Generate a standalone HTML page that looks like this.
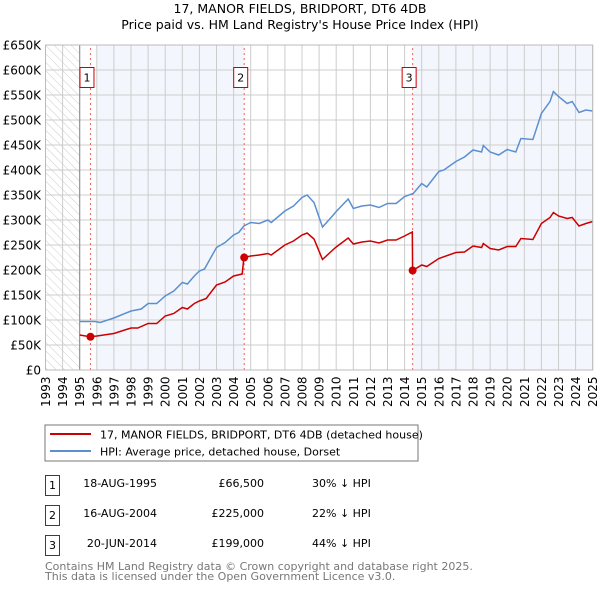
<!DOCTYPE html>
<html><head><meta charset="utf-8"><style>
body{margin:0;background:#fff;width:600px;height:590px;overflow:hidden;font-family:"DejaVu Sans","Liberation Sans",sans-serif}
svg text{font-family:"DejaVu Sans","Liberation Sans",sans-serif}
</style></head><body>
<svg id="c" width="600" height="590">
<defs><pattern id="h" width="6" height="6" patternUnits="userSpaceOnUse" patternTransform="rotate(-45)"><line x1="0" y1="0" x2="0" y2="6" stroke="#ccc" stroke-width="1"/></pattern></defs>
<text x="300" y="13" text-anchor="middle" font-size="12.5">17, MANOR FIELDS, BRIDPORT, DT6 4DB</text>
<text x="300" y="29" text-anchor="middle" font-size="12.5">Price paid vs. HM Land Registry's House Price Index (HPI)</text>
<g id="plot"></g>
<rect x="45" y="425" width="373" height="36" fill="#fff" stroke="#777"/>
<line x1="50" y1="434" x2="91" y2="434" stroke="#cc0000" stroke-width="2"/>
<text x="100" y="438.5" font-size="11">17, MANOR FIELDS, BRIDPORT, DT6 4DB (detached house)</text>
<line x1="50" y1="451" x2="91" y2="451" stroke="#5b8fd0" stroke-width="2"/>
<text x="100" y="455.5" font-size="11">HPI: Average price, detached house, Dorset</text>
<g font-size="11">
<rect x="45.5" y="475.5" width="14" height="20" fill="none" stroke="#c00"/><text x="52.5" y="489" text-anchor="middle">1</text>
<text x="157" y="487" text-anchor="end">18-AUG-1995</text>
<text x="264" y="487" text-anchor="end">£66,500</text>
<text x="312" y="487">30% ↓ HPI</text>
<rect x="45.5" y="505.5" width="14" height="20" fill="none" stroke="#c00"/><text x="52.5" y="519" text-anchor="middle">2</text>
<text x="157" y="517" text-anchor="end">16-AUG-2004</text>
<text x="264" y="517" text-anchor="end">£225,000</text>
<text x="312" y="517">22% ↓ HPI</text>
<rect x="45.5" y="535.5" width="14" height="20" fill="none" stroke="#c00"/><text x="52.5" y="549" text-anchor="middle">3</text>
<text x="157" y="547" text-anchor="end">20-JUN-2014</text>
<text x="264" y="547" text-anchor="end">£199,000</text>
<text x="312" y="547">44% ↓ HPI</text>
</g>
<text x="45" y="570" font-size="11" fill="#777">Contains HM Land Registry data © Crown copyright and database right 2025.</text>
<text x="45" y="580" font-size="11" fill="#777">This data is licensed under the Open Government Licence v3.0.</text>
</svg>
<script>
const yTicks=[0,50,100,150,200,250,300,350,400,450,500,550,600,650];
const years=[1993,1994,1995,1996,1997,1998,1999,2000,2001,2002,2003,2004,2005,2006,2007,2008,2009,2010,2011,2012,2013,2014,2015,2016,2017,2018,2019,2020,2021,2022,2023,2024,2025];
const hpiT=[1995,1995.9,1996.2,1997,1998,1998.6,1999,1999.5,2000,2000.5,2001,2001.3,2001.7,2002,2002.3,2003,2003.5,2004,2004.3,2004.6,2005,2005.5,2006,2006.2,2007,2007.5,2008,2008.3,2008.7,2009.2,2009.7,2010,2010.7,2011,2011.5,2012,2012.5,2013,2013.5,2014,2014.5,2015,2015.3,2016,2016.3,2017,2017.5,2018,2018.5,2018.6,2019,2019.5,2020,2020.5,2020.8,2021.5,2022,2022.5,2022.7,2023,2023.5,2023.8,2024.2,2024.6,2025];
const hpiV=[97,97,95,104,118,122,133,133,148,158,175,172,188,198,202,245,255,270,275,288,295,293,300,295,318,328,345,350,335,286,305,317,342,323,328,330,325,333,333,347,353,373,366,397,400,417,426,440,436,449,436,430,441,436,463,461,513,537,557,547,533,537,515,520,518];
const ppT=[1995,1995.6,1996,1997,1998,1998.4,1999,1999.5,2000,2000.5,2001,2001.3,2001.7,2002,2002.4,2003,2003.5,2004,2004.5,2004.6,2005,2005.5,2006,2006.2,2007,2007.5,2008,2008.3,2008.7,2009.2,2009.7,2010,2010.7,2011,2011.5,2012,2012.5,2013,2013.5,2014,2014.45,2014.47,2015,2015.3,2016,2017,2017.5,2018,2018.5,2018.6,2019,2019.5,2020,2020.5,2020.8,2021.5,2022,2022.5,2022.7,2023,2023.5,2023.8,2024.2,2024.6,2025];
const ppV=[70,66.5,68,73,84,84,93,93,108,113,125,122,133,138,143,170,176,188,192,225,228,230,233,230,250,258,270,274,262,221,237,246,264,252,256,258,254,260,260,268,276,199,210,207,223,235,236,248,245,253,243,240,247,247,263,261,293,305,315,308,303,305,288,293,297];
const sales=[[1995.63,66.5,"1"],[2004.62,225,"2"],[2014.47,199,"3"]];
const X=t=>45.5+(t-1993)*17.1, Y=v=>370-v*0.5;
const NS="http://www.w3.org/2000/svg", g=document.getElementById('plot');
function mk(tag,a,p){const e=document.createElementNS(NS,tag);for(const k in a)e.setAttribute(k,a[k]);(p||g).appendChild(e);return e;}
let e;
e=mk('rect',{x:X(1993),y:Y(650),width:X(1995)-X(1993),height:Y(0)-Y(650),fill:'url(#h)'});


e=mk('rect',{x:X(1996),y:Y(650),width:X(2004.62)-X(1996),height:Y(0)-Y(650),fill:'#eef3fc',opacity:0.7});


e=mk('rect',{x:X(2014.47),y:Y(650),width:X(2025)-X(2014.47),height:Y(0)-Y(650),fill:'#eef3fc',opacity:0.7});


yTicks.forEach(v=>{
 e=mk('line',{x1:X(1993),x2:X(2025),y1:Y(v*1),y2:Y(v*1),stroke:'#ccc'});
 
 
 e=mk('text',{x:41,y:Y(v)+4.5,'text-anchor':'end','font-size':12});
 e.textContent=v===0?'£0':'£'+v+'K';
 
 
});
years.forEach(y=>{
 e=mk('line',{x1:X(y),x2:X(y),y1:Y(0),y2:Y(650),stroke:'#ccc'});
 
 
 e=mk('text',{x:0,y:0,'font-size':12,transform:`translate(${X(y)+4.5},${407}) rotate(-90)`});
 e.textContent=y;
 
 
});
e=mk('line',{x1:X(1995),x2:X(1995),y1:Y(0),y2:Y(650),stroke:'#888'});


sales.forEach(s=>{
 e=mk('line',{x1:X(s[0]),x2:X(s[0]),y1:Y(0),y2:Y(650),stroke:'#f06060','stroke-dasharray':'2,3'});
 
 
 e=mk('rect',{x:X(s[0])-3.5-7,y:67.5,width:14,height:20,fill:'#fff',stroke:'#c00'});
 
 
 e=mk('text',{x:X(s[0])-3.5,y:81.5,'text-anchor':'middle','font-size':11});
 e.textContent=s[2];
 
 
});
const path=(T,V)=>T.map((t,i)=>(i?'L':'M')+X(t).toFixed(1)+','+Y(V[i]).toFixed(1)).join('');
e=mk('path',{d:path(hpiT,hpiV),fill:'none',stroke:'#5b8fd0','stroke-width':1.5});


e=mk('path',{d:path(ppT,ppV),fill:'none',stroke:'#cc0000','stroke-width':1.5});


sales.forEach(s=>{
 e=mk('circle',{cx:X(s[0]),cy:Y(s[1]),r:4,fill:'#cc0000'});
 
 
});
e=mk('rect',{x:X(1993),y:Y(650),width:X(2025)-X(1993),height:Y(0)-Y(650),fill:'none',stroke:'#bbb'});


</script>
</body></html>
